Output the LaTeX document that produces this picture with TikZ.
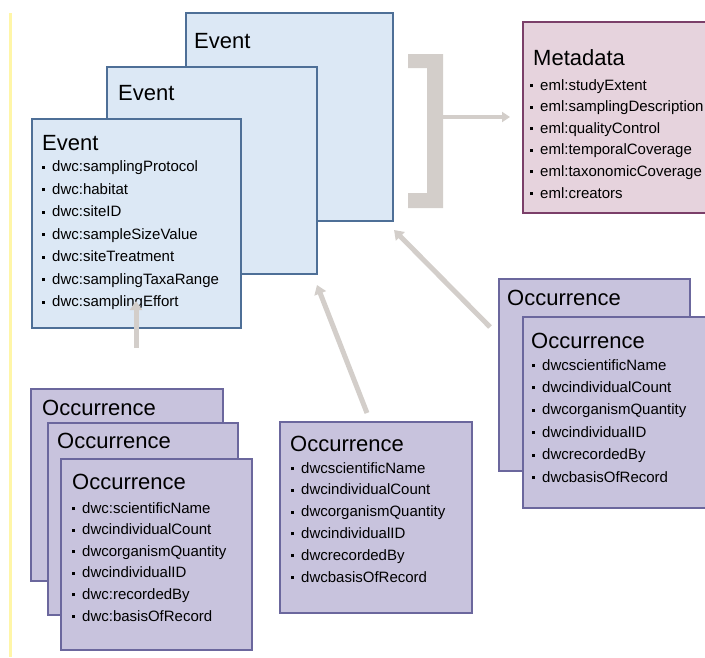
\documentclass[tikz,border=0pt]{standalone}
\usepackage{fontspec}
\setmainfont{Liberation Sans}
\usetikzlibrary{arrows.meta}

\definecolor{evfill}{HTML}{DCE8F5}
\definecolor{evline}{HTML}{4E6F97}
\definecolor{ocfill}{HTML}{C8C3DD}
\definecolor{ocline}{HTML}{6B679D}
\definecolor{mdfill}{HTML}{E6D3DD}
\definecolor{mdline}{HTML}{7B3F69}
\definecolor{linkgray}{HTML}{D3CECA}
\definecolor{edgeyellow}{HTML}{FFF6A8}

\tikzset{
  box/.style={draw, line width=1.5pt, anchor=north west, inner sep=0pt, outer sep=0pt},
  eventbox/.style={box, draw=evline, fill=evfill},
  occbox/.style={box, draw=ocline, fill=ocfill},
  metabox/.style={box, draw=mdline, fill=mdfill},
  boxtitle/.style={anchor=base west, inner sep=0pt, font=\fontsize{22}{22}\selectfont},
  field/.style={anchor=base west, inner sep=0pt, font=\fontsize{15}{15}\selectfont},
  link/.style={draw=linkgray, line width=5pt, -{Triangle[length=9pt,width=12pt]}},
}

% a column of bulleted field names: prefix, x, first baseline, step, names
\newcommand\fieldlist[5]{%
  \foreach \txt [count=\k from 0] in {#5} {
    \node[field] (#1\k) at (#2,{#3+#4*\k})
      {\makebox[10pt][l]{\rule[3pt]{3pt}{3pt}}\txt};
  }%
}

\begin{document}
\begin{tikzpicture}[x=1pt,y=-1pt]
\useasboundingbox (0,0) rectangle (705,657);
\clip (0,0) rectangle (705,657);

% thin rule along the left edge
\draw[edgeyellow, line width=3pt] (10,13) -- (10,657);

% ---- Event stack ----
\node[eventbox, minimum width=207pt, minimum height=208pt] (ev3) at (186,13) {};
\node[boxtitle] (ev3t) at (194,48) {Event};
\node[eventbox, minimum width=210pt, minimum height=207pt] (ev2) at (107,67) {};
\node[boxtitle] (ev2t) at (118,100) {Event};
\node[eventbox, minimum width=209pt, minimum height=209pt] (ev1) at (32,119) {};
\node[boxtitle] (ev1t) at (42,150) {Event};
\fieldlist{evf}{42}{171.5}{22.5}{dwc:samplingProtocol,dwc:habitat,dwc:siteID,dwc:sampleSizeValue,dwc:siteTreatment,dwc:samplingTaxaRange,dwc:samplingEffort}

% ---- Metadata ----
\node[metabox, minimum width=200pt, minimum height=191pt] (meta) at (523,22) {};
\node[boxtitle] (metat) at (533,65) {Metadata};
\fieldlist{mdf}{530}{90}{21.6}{eml:studyExtent,eml:samplingDescription,eml:qualityControl,eml:temporalCoverage,eml:taxonomicCoverage,eml:creators}

% bracket gathering the events, with its arrow to the metadata
\fill[linkgray] (408,54) -- (443,54) -- (443,208) -- (408,208) -- (408,193)
  -- (427,193) -- (427,68) -- (408,68) -- cycle;
\coordinate (brk) at (443,117);
\coordinate (brktip) at (510,117);
\draw[link, line width=4pt, -{Triangle[length=8pt,width=10pt]}] (brk) -- (brktip);

% ---- Occurrences, right ----
\node[occbox, minimum width=191pt, minimum height=192pt] (ocR2) at (499,279) {};
\node[boxtitle] (ocR2t) at (507,305) {Occurrence};
\node[occbox, minimum width=200pt, minimum height=191pt] (ocR1) at (523,317) {};
\node[boxtitle] (ocR1t) at (531,348) {Occurrence};
\fieldlist{orf}{532}{370}{22.4}{dwcscientificName,dwcindividualCount,dwcorganismQuantity,dwcindividualID,dwcrecordedBy,dwcbasisOfRecord}

% ---- Occurrence, middle ----
\node[occbox, minimum width=192pt, minimum height=191pt] (ocM) at (280,422) {};
\node[boxtitle] (ocMt) at (290,451) {Occurrence};
\fieldlist{omf}{291}{473}{21.8}{dwcscientificName,dwcindividualCount,dwcorganismQuantity,dwcindividualID,dwcrecordedBy,dwcbasisOfRecord}

% ---- Occurrences, left ----
\node[occbox, minimum width=192pt, minimum height=192pt] (ocL3) at (31,389) {};
\node[boxtitle] (ocL3t) at (42,415) {Occurrence};
\node[occbox, minimum width=190pt, minimum height=192pt] (ocL2) at (48,423) {};
\node[boxtitle] (ocL2t) at (57,448) {Occurrence};
\node[occbox, minimum width=191pt, minimum height=191pt] (ocL1) at (61,459) {};
\node[boxtitle] (ocL1t) at (72,489) {Occurrence};
\fieldlist{olf}{72}{513}{21.6}{dwc:scientificName,dwcindividualCount,dwcorganismQuantity,dwcindividualID,dwc:recordedBy,dwc:basisOfRecord}

% ---- links from occurrences to events ----
\coordinate (lkLs) at (136,348);
\coordinate (lkLe) at (136,301);
\coordinate (lkMs) at (367,413);
\coordinate (lkMe) at (317,285);
\coordinate (lkRs) at (490,327);
\coordinate (lkRe) at (394,230);
\draw[link] (lkLs) -- (lkLe);
\draw[link] (lkMs) -- (lkMe);
\draw[link] (lkRs) -- (lkRe);
\end{tikzpicture}
\end{document}
